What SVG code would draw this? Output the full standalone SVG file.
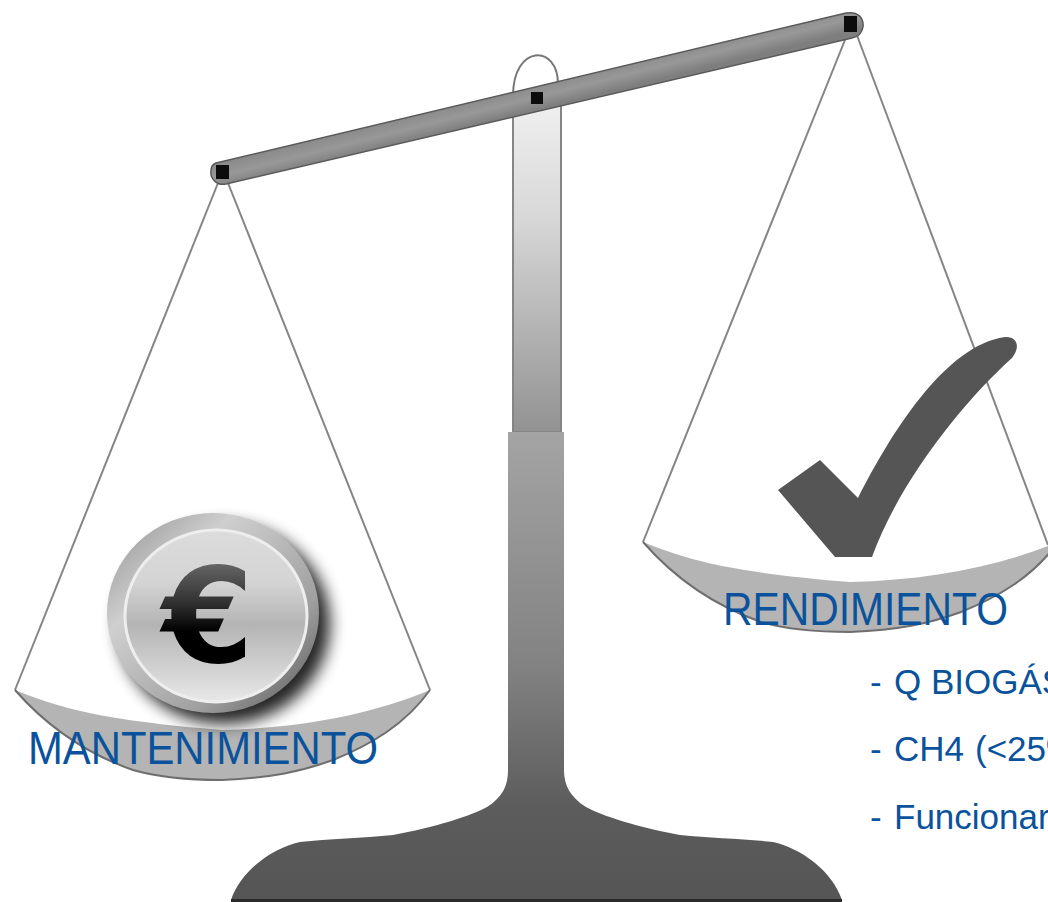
<svg xmlns="http://www.w3.org/2000/svg" width="1048" height="902" viewBox="0 0 1048 902">
<style>
.lbl{font-family:"Liberation Sans",Arial,sans-serif;fill:#0a539c}
.big{font-size:47px}
.small{font-size:35px}
.cord{fill:none;stroke:#858585;stroke-width:2}
.pan{fill:#b4b4b4}
.panedge{fill:none;stroke:#6e6e6e;stroke-width:2}
.pivot{fill:#0c0c0c}
</style>
<defs>
<linearGradient id="col1" x1="0" y1="0" x2="0" y2="1"><stop offset="0" stop-color="#f0f0f0"/><stop offset="0.35" stop-color="#d8d8d8"/><stop offset="1" stop-color="#929292"/></linearGradient>
<linearGradient id="col2" gradientUnits="userSpaceOnUse" x1="0" y1="432" x2="0" y2="902"><stop offset="0" stop-color="#a4a4a4"/><stop offset="0.5" stop-color="#828282"/><stop offset="0.8" stop-color="#5c5c5c"/><stop offset="1" stop-color="#555"/></linearGradient>
<linearGradient id="beamfill" gradientUnits="userSpaceOnUse" x1="530" y1="86" x2="536" y2="110"><stop offset="0" stop-color="#8a8a8a"/><stop offset="0.5" stop-color="#989898"/><stop offset="1" stop-color="#7e7e7e"/></linearGradient>
<linearGradient id="rim" x1="0" y1="0" x2="1" y2="1"><stop offset="0" stop-color="#8e8e8e"/><stop offset="0.3" stop-color="#cfcfcf"/><stop offset="0.7" stop-color="#a0a0a0"/><stop offset="1" stop-color="#555"/></linearGradient>
<linearGradient id="face" x1="0" y1="0" x2="0" y2="1"><stop offset="0" stop-color="#dcdcdc"/><stop offset="0.3" stop-color="#d4d4d4"/><stop offset="0.55" stop-color="#b4b4b4"/><stop offset="1" stop-color="#e8e8e8"/></linearGradient>
<linearGradient id="euro" x1="0" y1="0" x2="0" y2="1"><stop offset="0" stop-color="#858585"/><stop offset="0.42" stop-color="#303030"/><stop offset="0.6" stop-color="#000"/><stop offset="1" stop-color="#000"/></linearGradient>
<filter id="soft" x="-25%" y="-25%" width="150%" height="150%"><feGaussianBlur stdDeviation="8"/></filter>
</defs>
<rect width="1048" height="902" fill="#fff"/>
<g id="connectors">
<path class="cord" d="M220,178 L15,690"/>
<path class="cord" d="M226,178 L430,690"/>
<path class="cord" d="M849,30 L643,542"/>
<path class="cord" d="M855,30 L1048,545"/>
</g>
<g id="stand">
<path d="M513,96 C513,44 558,44 558,84" fill="none" stroke="#777" stroke-width="2"/>
<rect x="513" y="100" width="48" height="332" fill="url(#col1)" stroke="#858585" stroke-width="2"/>
<path d="M508,432 H564 V770 C564,785 570,797 586,807 C600,815 640,828 680,835 C710,838 745,839 773,842 C800,848 832,870 842,900 H231 C241,870 273,848 300,842 C328,839 363,838 393,835 C433,828 473,815 487,807 C503,797 508,785 508,770 Z" fill="url(#col2)"/>
<rect x="231" y="899" width="611" height="3" fill="#2a2a2a"/>
</g>
<g id="beam">
<path d="M216,163 L846,13 C858,11 864,18 863,27 C862,33 858,37 852,38 L226,184 C216,186 210,178 211,171 C211,167 213,164 216,163 Z" fill="url(#beamfill)" stroke="#5a5a5a" stroke-width="1.5"/>
<rect class="pivot" x="216" y="165" width="13" height="14"/>
<rect class="pivot" x="531" y="92" width="12" height="12"/>
<rect class="pivot" x="844" y="16" width="13" height="16"/>
</g>
<g id="pan-left">
<path class="pan" d="M15,690 C60,708 100,720 222,730 C300,728 370,715 430,690 C405,725 370,745 333,760 C300,772 270,778 222,780 C180,780 150,775 133,770 C90,755 50,730 15,690 Z"/>
<path class="panedge" d="M15,690 C50,730 90,755 133,770 C150,775 180,780 222,780 C270,778 300,772 333,760 C370,745 405,725 430,690"/>
</g>
<g id="pan-right">
<path class="pan" d="M643,542 C688,560 728,572 850,582 C928,580 998,567 1058,542 C1033,577 998,597 961,612 C928,624 898,630 850,632 C808,632 778,627 761,622 C718,607 678,582 643,542 Z"/>
<path class="panedge" d="M643,542 C678,582 718,607 761,622 C778,627 808,632 850,632 C898,630 928,624 961,612 C998,597 1033,577 1058,542"/>
</g>
<g id="coin">
<ellipse cx="224" cy="624" rx="106" ry="100" fill="#000" opacity="0.85" filter="url(#soft)"/>
<ellipse cx="213" cy="613" rx="106" ry="100" fill="url(#rim)"/>
<ellipse cx="216" cy="616" rx="91" ry="86" fill="url(#face)" stroke="#eee" stroke-width="3"/>
<text x="208" y="662" text-anchor="middle" font-family="'DejaVu Sans',sans-serif" font-weight="700" font-size="132" fill="url(#euro)">€</text>
</g>
<g id="check">
<path d="M778,490 L820,460 L858,498 C890,435 945,345 1005,337 C1017,336 1021,347 1012,358 C965,400 900,480 872,557 L835,557 Z" fill="#555"/>
</g>
<g id="labels">
<text class="lbl big" x="28" y="764" textLength="350" lengthAdjust="spacingAndGlyphs">MANTENIMIENTO</text>
<text class="lbl big" x="723" y="625" textLength="285" lengthAdjust="spacingAndGlyphs">RENDIMIENTO</text>
<text class="lbl small" x="870" y="694">-<tspan x="894">Q BIOGÁS</tspan></text>
<text class="lbl small" x="870" y="761">-<tspan x="894">CH4</tspan><tspan x="975">(&lt;25%</tspan></text>
<text class="lbl small" x="870" y="829">-<tspan x="894">Funcionar</tspan></text>
</g>
</svg>
